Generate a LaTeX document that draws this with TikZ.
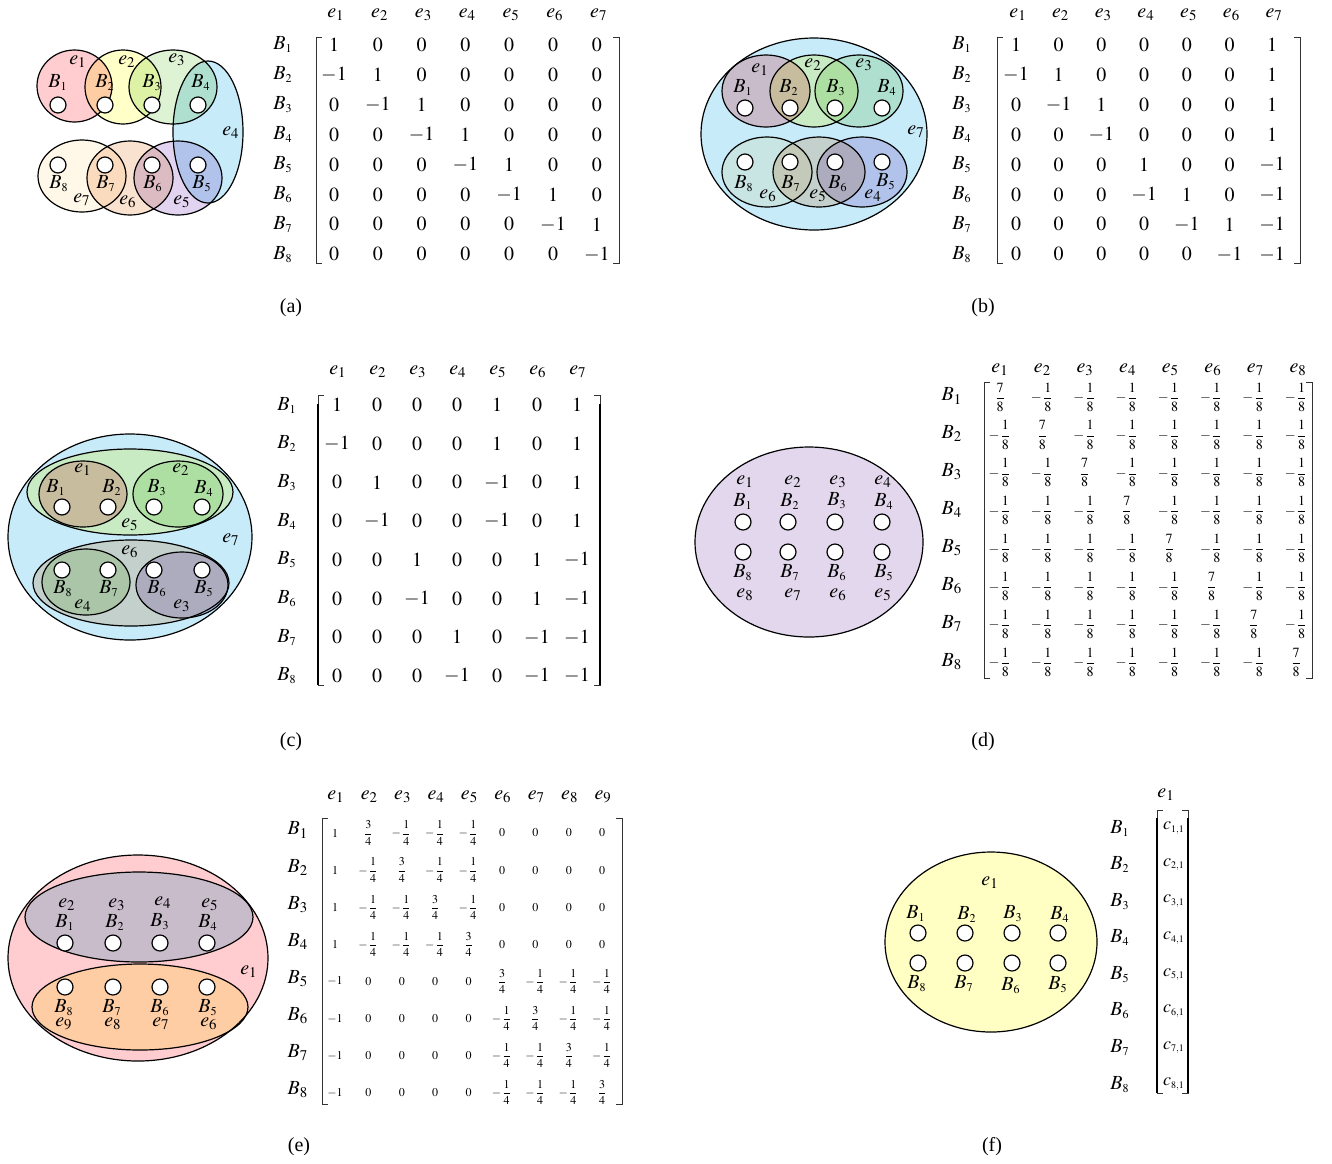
\documentclass[tikz,border=0pt]{standalone}
\usepackage{amsmath}
\usepackage{mathptmx}
\usepackage{fontspec}
\setmainfont{Liberation Serif}
\usepackage{tikz}
\usepackage{xcolor}

\definecolor{hpink}{RGB}{255,205,208}
\definecolor{hyellow}{RGB}{255,255,200}
\definecolor{hgreen}{RGB}{222,242,212}
\definecolor{hblue}{RGB}{200,235,250}
\definecolor{hcream}{RGB}{255,248,232}
\definecolor{hpeach}{RGB}{250,226,208}
\definecolor{hlav}{RGB}{226,212,240}
\definecolor{hlilac}{RGB}{226,215,236}
\definecolor{hlemon}{RGB}{255,255,196}

\newcommand{\Bn}[1]{$B_{\scriptscriptstyle #1}$}
\newcommand{\En}[1]{$e_{#1}$}
\newcommand{\meig}{-\dfrac{1}{8}}
\newcommand{\seig}{\dfrac{7}{8}}
\newcommand{\mqu}{-\dfrac{1}{4}}
\newcommand{\tqu}{\dfrac{3}{4}}

\tikzset{
  hole/.style={circle,draw,fill=white,minimum size=8pt,inner sep=0pt,line width=0.6pt},
  lab/.style={inner sep=0pt},
  hedge/.style={draw=black,line width=0.6pt},
  ent/.style={inner sep=0pt},
  brk/.style={line width=0.5pt,draw=black!80},
  brkthick/.style={line width=1.3pt},
}

\begin{document}
\begin{tikzpicture}[x=0.5pt,y=0.5pt,yscale=-1]
\useasboundingbox (0,0) rectangle (1332,1163);

%%%%%%%%%%%%%%%%%%%% (a) %%%%%%%%%%%%%%%%%%%%
%Shape: Ellipses
\begin{scope}[blend mode=multiply]
  \draw[hedge,fill=hpink]   (74.5,86) ellipse [x radius=37.5,y radius=36];
  \draw[hedge,fill=hyellow] (123,87) ellipse [x radius=38,y radius=37];
  \draw[hedge,fill=hgreen]  (173,87) ellipse [x radius=44,y radius=37];
  \draw[hedge,fill=hblue]   (208,132) ellipse [x radius=35,y radius=71];
  \draw[hedge,fill=hcream]  (82,176) ellipse [x radius=44,y radius=36];
  \draw[hedge,fill=hpeach]  (130,178) ellipse [x radius=43,y radius=37];
  \draw[hedge,fill=hlav]    (178,178) ellipse [x radius=44,y radius=37];
\end{scope}
\foreach \n/\x/\y in {1/58/105,2/105/105,3/152/105,4/198/105,5/198/165,6/152/165,7/105/165,8/58/165}
  \node[hole] (a\n) at (\x,\y) {};
% Text Node
\foreach \n/\x/\y in {1/58/83,2/105/83,3/152/83,4/201/83,5/202/184,6/153/184,7/106/184,8/59/184}
  \node[lab] (aB\n) at (\x,\y) {\Bn{\n}};
\foreach \n/\x/\y in {1/78/62,2/127/62,3/177/60,4/231/133,5/182/202,6/128/202,7/82/200}
  \node[lab] (ae\n) at (\x,\y) {\En{\n}};

% matrix (a)
\foreach \c in {1,...,7}
  \node[lab] (ah\c) at ({336+43.8*(\c-1)},15) {$e_{\c}$};
\foreach \r in {1,...,8}
  \node[lab] (ar\r) at (283,{45+29.9*(\r-1)}) {\Bn{\r}};
\foreach \row [count=\r] in {{1,0,0,0,0,0,0},{-1,1,0,0,0,0,0},{0,-1,1,0,0,0,0},{0,0,-1,1,0,0,0},
  {0,0,0,-1,1,0,0},{0,0,0,0,-1,1,0},{0,0,0,0,0,-1,1},{0,0,0,0,0,0,-1}}
  \foreach \v [count=\c] in \row
    \node[ent] (am\r-\c) at ({334+43.8*(\c-1)},{45+29.9*(\r-1)}) {$\v$};
\draw[brk] (322,37) -- (316,37) -- (316,263) -- (322,263);
\draw[brk] (613,37) -- (619,37) -- (619,263) -- (613,263);
\node[lab] (capa) at (291,308) {(a)};

%%%%%%%%%%%%%%%%%%%% (b) %%%%%%%%%%%%%%%%%%%%
\begin{scope}[blend mode=multiply]
  \draw[hedge,fill=hblue]   (814,134) ellipse [x radius=113,y radius=96];
  \draw[hedge,fill=hpink]   (766,91) ellipse [x radius=44,y radius=36];
  \draw[hedge,fill=hyellow] (814,91) ellipse [x radius=44,y radius=36];
  \draw[hedge,fill=hgreen]  (859,91) ellipse [x radius=44,y radius=36];
  \draw[hedge,fill=hcream]  (767,172) ellipse [x radius=45,y radius=35];
  \draw[hedge,fill=hpeach]  (819,172) ellipse [x radius=46,y radius=35];
  \draw[hedge,fill=hlav]    (862,172) ellipse [x radius=45,y radius=35];
\end{scope}
\foreach \n/\x/\y in {1/745/108,2/790/108,3/835/108,4/882/108,5/882/162,6/835/162,7/790/162,8/745/162}
  \node[hole] (b\n) at (\x,\y) {};
% Text Node
\foreach \n/\x/\y in {1/743/88,2/789/88,3/836/88,4/887/88,5/886/182,6/838/184,7/791/184,8/744/184}
  \node[lab] (bB\n) at (\x,\y) {\Bn{\n}};
\foreach \n/\x/\y in {1/760/70,2/813/65,3/864/65,4/873/196,5/818/196,6/768/196,7/916/132}
  \node[lab] (be\n) at (\x,\y) {\En{\n}};

% matrix (b)
\foreach \c in {1,...,7}
  \node[lab] (bh\c) at ({1018+42.7*(\c-1)},15) {$e_{\c}$};
\foreach \r in {1,...,8}
  \node[lab] (br\r) at (962,{45+29.9*(\r-1)}) {\Bn{\r}};
\foreach \row [count=\r] in {{1,0,0,0,0,0,1},{-1,1,0,0,0,0,1},{0,-1,1,0,0,0,1},{0,0,-1,0,0,0,1},
  {0,0,0,1,0,0,-1},{0,0,0,-1,1,0,-1},{0,0,0,0,-1,1,-1},{0,0,0,0,0,-1,-1}}
  \foreach \v [count=\c] in \row
    \node[ent] (bm\r-\c) at ({1016+42.7*(\c-1)},{45+29.9*(\r-1)}) {$\v$};
\draw[brk] (1003,37) -- (997,37) -- (997,263) -- (1003,263);
\draw[brk] (1294,37) -- (1300,37) -- (1300,263) -- (1294,263);
\node[lab] (capb) at (983,308) {(b)};

%%%%%%%%%%%%%%%%%%%% (c) %%%%%%%%%%%%%%%%%%%%
\begin{scope}[blend mode=multiply]
  \draw[hedge,fill=hblue]   (130,537) ellipse [x radius=122,y radius=103];
  \draw[hedge,fill=hyellow] (130,492) ellipse [x radius=103,y radius=43];
  \draw[hedge,fill=hpink]   (83,494) ellipse [x radius=44,y radius=33];
  \draw[hedge,fill=hgreen]  (178,494) ellipse [x radius=45,y radius=33];
  \draw[hedge,fill=hpeach]  (131,583) ellipse [x radius=98,y radius=43];
  \draw[hedge,fill=hgreen]  (86,582) ellipse [x radius=44,y radius=33];
  \draw[hedge,fill=hlav]    (182,585) ellipse [x radius=46,y radius=33];
\end{scope}
\foreach \n/\x/\y in {1/62/507,2/108/507,3/154/507,4/202/507,5/202/570,6/154/570,7/108/570,8/62/570}
  \node[hole] (c\n) at (\x,\y) {};
% Text Node
\foreach \n/\x/\y in {1/56/487,2/112/487,3/157/488,4/204/488,5/204/589,6/157/589,7/109/589,8/63/589}
  \node[lab] (cB\n) at (\x,\y) {\Bn{\n}};
\foreach \n/\x/\y in {1/83/470,2/181/470,3/182/606,4/83/606,5/130/525,6/130/552,7/231/540}
  \node[lab] (ce\n) at (\x,\y) {\En{\n}};

% matrix (c)
\foreach \c in {1,...,7}
  \node[lab] (ch\c) at ({338+40*(\c-1)},372) {$e_{\c}$};
\foreach \r in {1,...,8}
  \node[lab] (cr\r) at (287,{405+38.7*(\r-1)}) {\Bn{\r}};
\foreach \row [count=\r] in {{1,0,0,0,1,0,1},{-1,0,0,0,1,0,1},{0,1,0,0,-1,0,1},{0,-1,0,0,-1,0,1},
  {0,0,1,0,0,1,-1},{0,0,-1,0,0,1,-1},{0,0,0,1,0,-1,-1},{0,0,0,-1,0,-1,-1}}
  \foreach \v [count=\c] in \row
    \node[ent] (cm\r-\c) at ({337+40*(\c-1)},{405+38.7*(\r-1)}) {$\v$};
\draw[brk] (324,395) -- (318,395) -- (318,685) -- (324,685);
\draw[brkthick] (318,404) -- (318,685);
\draw[brk] (594,395) -- (600,395) -- (600,685) -- (594,685);
\draw[brkthick] (600,404) -- (600,685);
\node[lab] (capc) at (291,742) {(c)};

%%%%%%%%%%%%%%%%%%%% (d) %%%%%%%%%%%%%%%%%%%%
\draw[hedge,fill=hlilac] (809,542) ellipse [x radius=114,y radius=95];
\foreach \n/\x/\y in {1/743/522,2/788/522,3/835/522,4/882/522,5/882/552,6/835/552,7/788/552,8/743/552}
  \node[hole] (d\n) at (\x,\y) {};
% Text Node
\foreach \n/\x/\y in {1/745/482,2/793/482,3/838/482,4/883/482,5/883/595,6/838/595,7/793/595,8/745/595}
  \node[lab] (de\n) at (\x,\y) {\En{\n}};
\foreach \n/\x/\y in {1/743/501,2/790/501,3/837/501,4/884/501,5/884/573,6/837/573,7/790/573,8/743/573}
  \node[lab] (dB\n) at (\x,\y) {\Bn{\n}};

% matrix (d)
\foreach \c in {1,...,8}
  \node[lab] (dh\c) at ({1000+42.6*(\c-1)},370) {$e_{\c}$};
\foreach \r in {1,...,8}
  \node[lab] (dr\r) at (952,{396+37.9*(\r-1)}) {$B_{\r}$};
\foreach \r in {1,...,8}
  \foreach \c in {1,...,8}
    \node[ent] (dm\r-\c) at ({1000+42.3*(\c-1)},{397+37.9*(\r-1)})
      {\scriptsize$\ifnum\r=\c\seig\else\meig\fi$};
\draw[brk] (990,382) -- (984,382) -- (984,678) -- (990,678);
\draw[brk] (1306,382) -- (1312,382) -- (1312,678) -- (1306,678);
\node[lab] (capd) at (983,742) {(d)};

%%%%%%%%%%%%%%%%%%%% (e) %%%%%%%%%%%%%%%%%%%%
\begin{scope}[blend mode=multiply]
  \draw[hedge,fill=hpink]   (138,958) ellipse [x radius=130,y radius=103];
  \draw[hedge,fill=hblue]   (139,917) ellipse [x radius=114,y radius=45];
  \draw[hedge,fill=hyellow] (140,1007) ellipse [x radius=108,y radius=43];
\end{scope}
\foreach \n/\x/\y in {1/65/943,2/113/943,3/160/943,4/207/943,5/207/987,6/160/987,7/113/987,8/65/987}
  \node[hole] (e\n) at (\x,\y) {};
% Text Node
\foreach \n/\x/\y in {1/65/922,2/115/922,3/160/922,4/208/922,5/208/1008,6/160/1008,7/112/1008,8/64/1008}
  \node[lab] (eB\n) at (\x,\y) {\Bn{\n}};
\foreach \n/\x/\y in {2/67/905,3/117/905,4/163/903,5/210/905,6/209/1024,7/161/1024,8/113/1024,9/64/1024}
  \node[lab] (ee\n) at (\x,\y) {\En{\n}};
\node[lab] (ee1) at (249,972) {\En{1}};

% matrix (e)
\foreach \c in {1,...,9}
  \node[lab] (eh\c) at ({336+33.4*(\c-1)},797) {$e_{\c}$};
\foreach \r in {1,...,8}
  \node[lab] (er\r) at (298,{830+37.1*(\r-1)}) {$B_{\r}$};
\foreach \row [count=\r] in {{1,\tqu,\mqu,\mqu,\mqu,0,0,0,0},{1,\mqu,\tqu,\mqu,\mqu,0,0,0,0},
  {1,\mqu,\mqu,\tqu,\mqu,0,0,0,0},{1,\mqu,\mqu,\mqu,\tqu,0,0,0,0},
  {-1,0,0,0,0,\tqu,\mqu,\mqu,\mqu},{-1,0,0,0,0,\mqu,\tqu,\mqu,\mqu},
  {-1,0,0,0,0,\mqu,\mqu,\tqu,\mqu},{-1,0,0,0,0,\mqu,\mqu,\mqu,\tqu}}
  \foreach \v [count=\c] in \row
    \node[ent] (em\r-\c) at ({335+33.4*(\c-1)},{833+37.1*(\r-1)}) {\fontsize{6}{7}\selectfont$\v$};
\draw[brk] (328,818) -- (322,818) -- (322,1104) -- (328,1104);
\draw[brk] (616,818) -- (622,818) -- (622,1104) -- (616,1104);
\node[lab] (cape) at (299,1147) {(e)};

%%%%%%%%%%%%%%%%%%%% (f) %%%%%%%%%%%%%%%%%%%%
\draw[hedge,fill=hlemon] (991,942) ellipse [x radius=106,y radius=90];
\foreach \n/\x/\y in {1/918/933,2/965/933,3/1012/933,4/1058/933,5/1058/963,6/1012/963,7/965/963,8/918/963}
  \node[hole] (f\n) at (\x,\y) {};
% Text Node
\foreach \n/\x/\y in {1/916/913,2/967/914,3/1013/914,4/1060/914,5/1058/985,6/1011/986,7/964/984,8/917/984}
  \node[lab] (fB\n) at (\x,\y) {\Bn{\n}};
\node[lab] (fe1) at (990,883) {\En{1}};

% matrix (f)
\node[lab] (fh1) at (1166,795) {$e_{1}$};
\foreach \r in {1,...,8}
  \node[lab] (fr\r) at (1120,{828+36.6*(\r-1)}) {\Bn{\r}};
\foreach \r in {1,...,8}
  \node[ent] (fm\r) at (1174,{828+36.6*(\r-1)}) {\small$c_{\scriptscriptstyle \r,1}$};
\draw[brk] (1163,810) -- (1157,810) -- (1157,1093) -- (1163,1093);
\draw[brkthick] (1157,818) -- (1157,1093);
\draw[brk] (1182,810) -- (1188,810) -- (1188,1093) -- (1182,1093);
\draw[brkthick] (1188,818) -- (1188,1093);
\node[lab] (capf) at (992,1147) {(f)};

\end{tikzpicture}
\end{document}
